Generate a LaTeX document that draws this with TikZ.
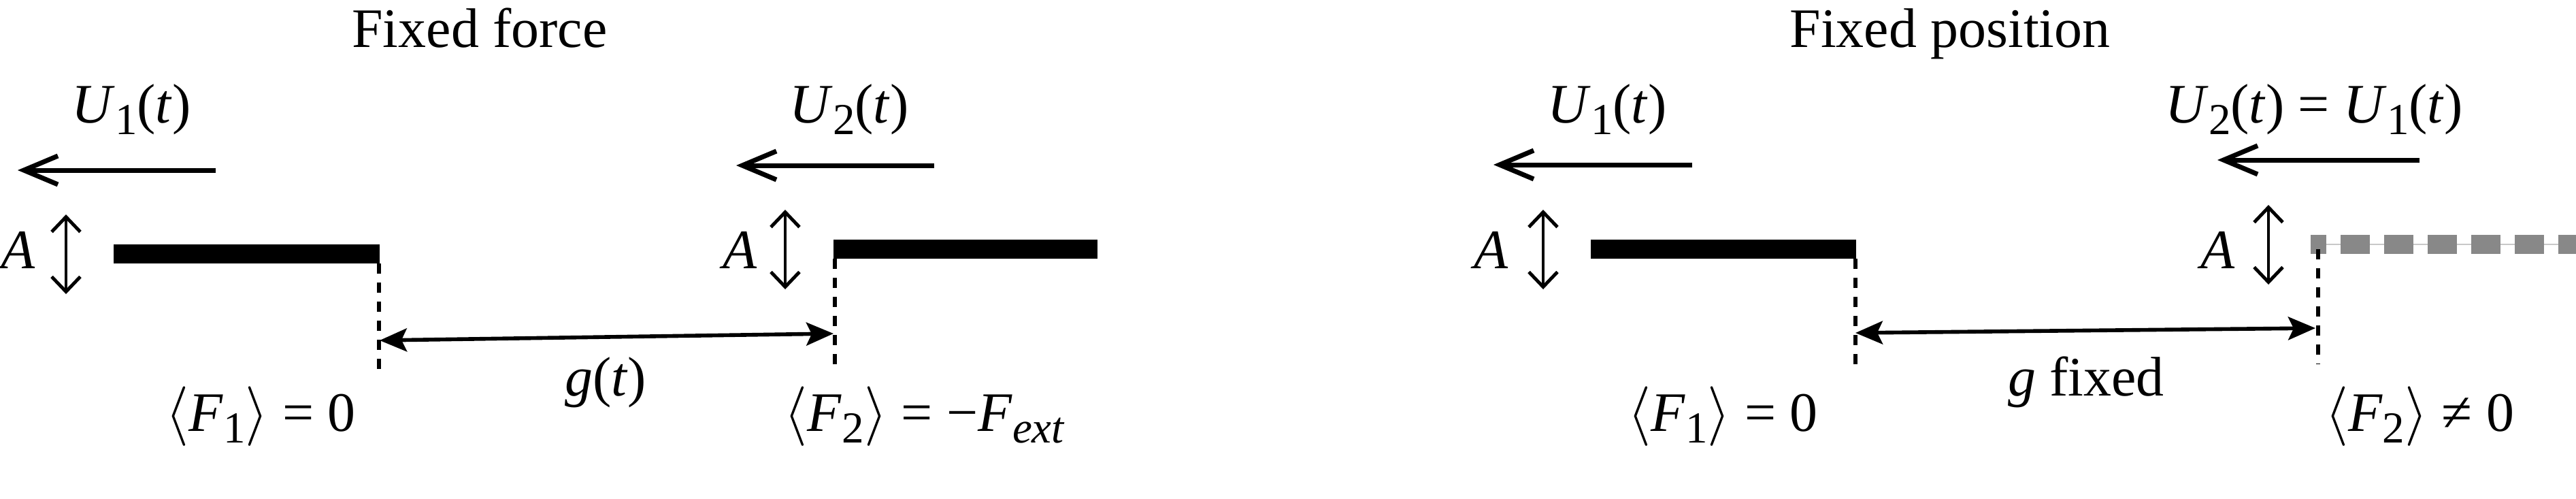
\documentclass[tikz,border=0pt]{standalone}
\usepackage{fontspec}
\setmainfont{Liberation Serif}
\usetikzlibrary{arrows.meta}
\definecolor{bargray}{HTML}{888888}
\definecolor{barthin}{HTML}{C8C8C8}
\newcommand{\vi}[1]{\textit{#1}}
\newcommand{\lowr}[1]{\raisebox{-0.17cm}{\fontsize{18.5}{20}\selectfont #1}}
\newcommand{\Uof}[1]{\vi{U}\lowr{#1}(\vi{t})}
\newcommand{\avg}[1]{$\langle$\vi{F}\lowr{#1}$\rangle$}
\begin{document}
\begin{tikzpicture}[
    lbl/.style={font=\fontsize{23.3}{28}\selectfont, inner sep=0pt, anchor=base},
    plate/.style={line width=0.28cm},
    ghost/.style={line width=0.28cm, bargray, dash pattern=on 0.43cm off 0.21cm, dash phase=0.2cm},
    edge/.style={line width=1.8pt, dash pattern=on 0.15cm off 0.13cm},
    drive/.style={line width=2pt, -{Straight Barb[length=0.5cm,width=0.42cm]}},
    amp/.style={line width=1.4pt, {Straight Barb[length=0.22cm,width=0.42cm]}-{Straight Barb[length=0.22cm,width=0.42cm]}},
    gap/.style={line width=1.6pt, {Stealth[length=0.4cm,width=0.34cm,inset=0.08cm]}-{Stealth[length=0.4cm,width=0.34cm,inset=0.08cm]}}
]
\useasboundingbox (0,0) rectangle (37.86,-7.32);

% left: fixed force
\node[lbl] (titleforce) at (7.05,-0.69) {Fixed force};
\node[lbl] (uoneL) at (1.93,-1.80) {\Uof{1}};
\coordinate (uoneLs) at (3.17,-2.50);
\coordinate (uoneLe) at (0.26,-2.50);
\draw[drive] (uoneLs) -- (uoneLe);
\node[lbl] (aoneL) at (0.27,-3.94) {\vi{A}};
\coordinate (aoneLt) at (0.97,-3.15);
\coordinate (aoneLb) at (0.97,-4.32);
\draw[amp] (aoneLt) -- (aoneLb);
\coordinate (plateoneLa) at (1.67,-3.73);
\coordinate (plateoneLb) at (5.58,-3.73);
\draw[plate] (plateoneLa) -- (plateoneLb);
\coordinate (edgeoneLt) at (5.57,-3.87);
\coordinate (edgeoneLb) at (5.57,-5.44);
\draw[edge] (edgeoneLt) -- (edgeoneLb);
\node[lbl] (foneL) at (3.83,-6.33) {\avg{1} = 0};

\node[lbl] (utwoL) at (12.48,-1.80) {\Uof{2}};
\coordinate (utwoLs) at (13.73,-2.43);
\coordinate (utwoLe) at (10.82,-2.43);
\draw[drive] (utwoLs) -- (utwoLe);
\node[lbl] (atwoL) at (10.88,-3.94) {\vi{A}};
\coordinate (atwoLt) at (11.54,-3.08);
\coordinate (atwoLb) at (11.54,-4.25);
\draw[amp] (atwoLt) -- (atwoLb);
\coordinate (platetwoLa) at (12.25,-3.66);
\coordinate (platetwoLb) at (16.13,-3.66);
\draw[plate] (platetwoLa) -- (platetwoLb);
\coordinate (edgetwoLt) at (12.27,-3.80);
\coordinate (edgetwoLb) at (12.27,-5.42);
\draw[edge] (edgetwoLt) -- (edgetwoLb);
\node[lbl] (ftwoL) at (13.59,-6.33) {\avg{2} = −\vi{F}\lowr{\vi{ext}}};

\coordinate (gapLa) at (5.58,-5.00);
\coordinate (gapLb) at (12.25,-4.90);
\draw[gap] (gapLa) -- (gapLb);
\node[lbl] (gapLlbl) at (8.90,-5.81) {\vi{g}(\vi{t})};

% right: fixed position
\node[lbl] (titlepos) at (28.66,-0.69) {Fixed position};
\node[lbl] (uoneR) at (23.62,-1.80) {\Uof{1}};
\coordinate (uoneRs) at (24.87,-2.42);
\coordinate (uoneRe) at (21.95,-2.42);
\draw[drive] (uoneRs) -- (uoneRe);
\node[lbl] (aoneR) at (21.92,-3.94) {\vi{A}};
\coordinate (aoneRt) at (22.68,-3.08);
\coordinate (aoneRb) at (22.68,-4.25);
\draw[amp] (aoneRt) -- (aoneRb);
\coordinate (plateoneRa) at (23.38,-3.66);
\coordinate (plateoneRb) at (27.28,-3.66);
\draw[plate] (plateoneRa) -- (plateoneRb);
\coordinate (edgeoneRt) at (27.27,-3.80);
\coordinate (edgeoneRb) at (27.27,-5.36);
\draw[edge] (edgeoneRt) -- (edgeoneRb);
\node[lbl] (foneR) at (25.32,-6.33) {\avg{1} = 0};

\node[lbl] (utwoR) at (34.01,-1.80) {\Uof{2} = \Uof{1}};
\coordinate (utwoRs) at (35.56,-2.35);
\coordinate (utwoRe) at (32.59,-2.35);
\draw[drive] (utwoRs) -- (utwoRe);
\node[lbl] (atwoR) at (32.60,-3.94) {\vi{A}};
\coordinate (atwoRt) at (33.34,-3.01);
\coordinate (atwoRb) at (33.34,-4.18);
\draw[amp] (atwoRt) -- (atwoRb);
\coordinate (platetwoRa) at (33.96,-3.59);
\coordinate (platetwoRb) at (38.20,-3.59);
\draw[barthin, line width=0.6pt] (platetwoRa) -- (platetwoRb);
\draw[ghost] (platetwoRa) -- (platetwoRb);
\coordinate (edgetwoRt) at (34.07,-3.66);
\coordinate (edgetwoRb) at (34.07,-5.35);
\draw[edge] (edgetwoRt) -- (edgetwoRb);
\node[lbl] (ftwoR) at (35.56,-6.33) {\avg{2} ≠ 0};

\coordinate (gapRa) at (27.27,-4.89);
\coordinate (gapRb) at (34.03,-4.82);
\draw[gap] (gapRa) -- (gapRb);
\node[lbl] (gapRlbl) at (30.66,-5.81) {\vi{g} fixed};
\end{tikzpicture}
\end{document}
